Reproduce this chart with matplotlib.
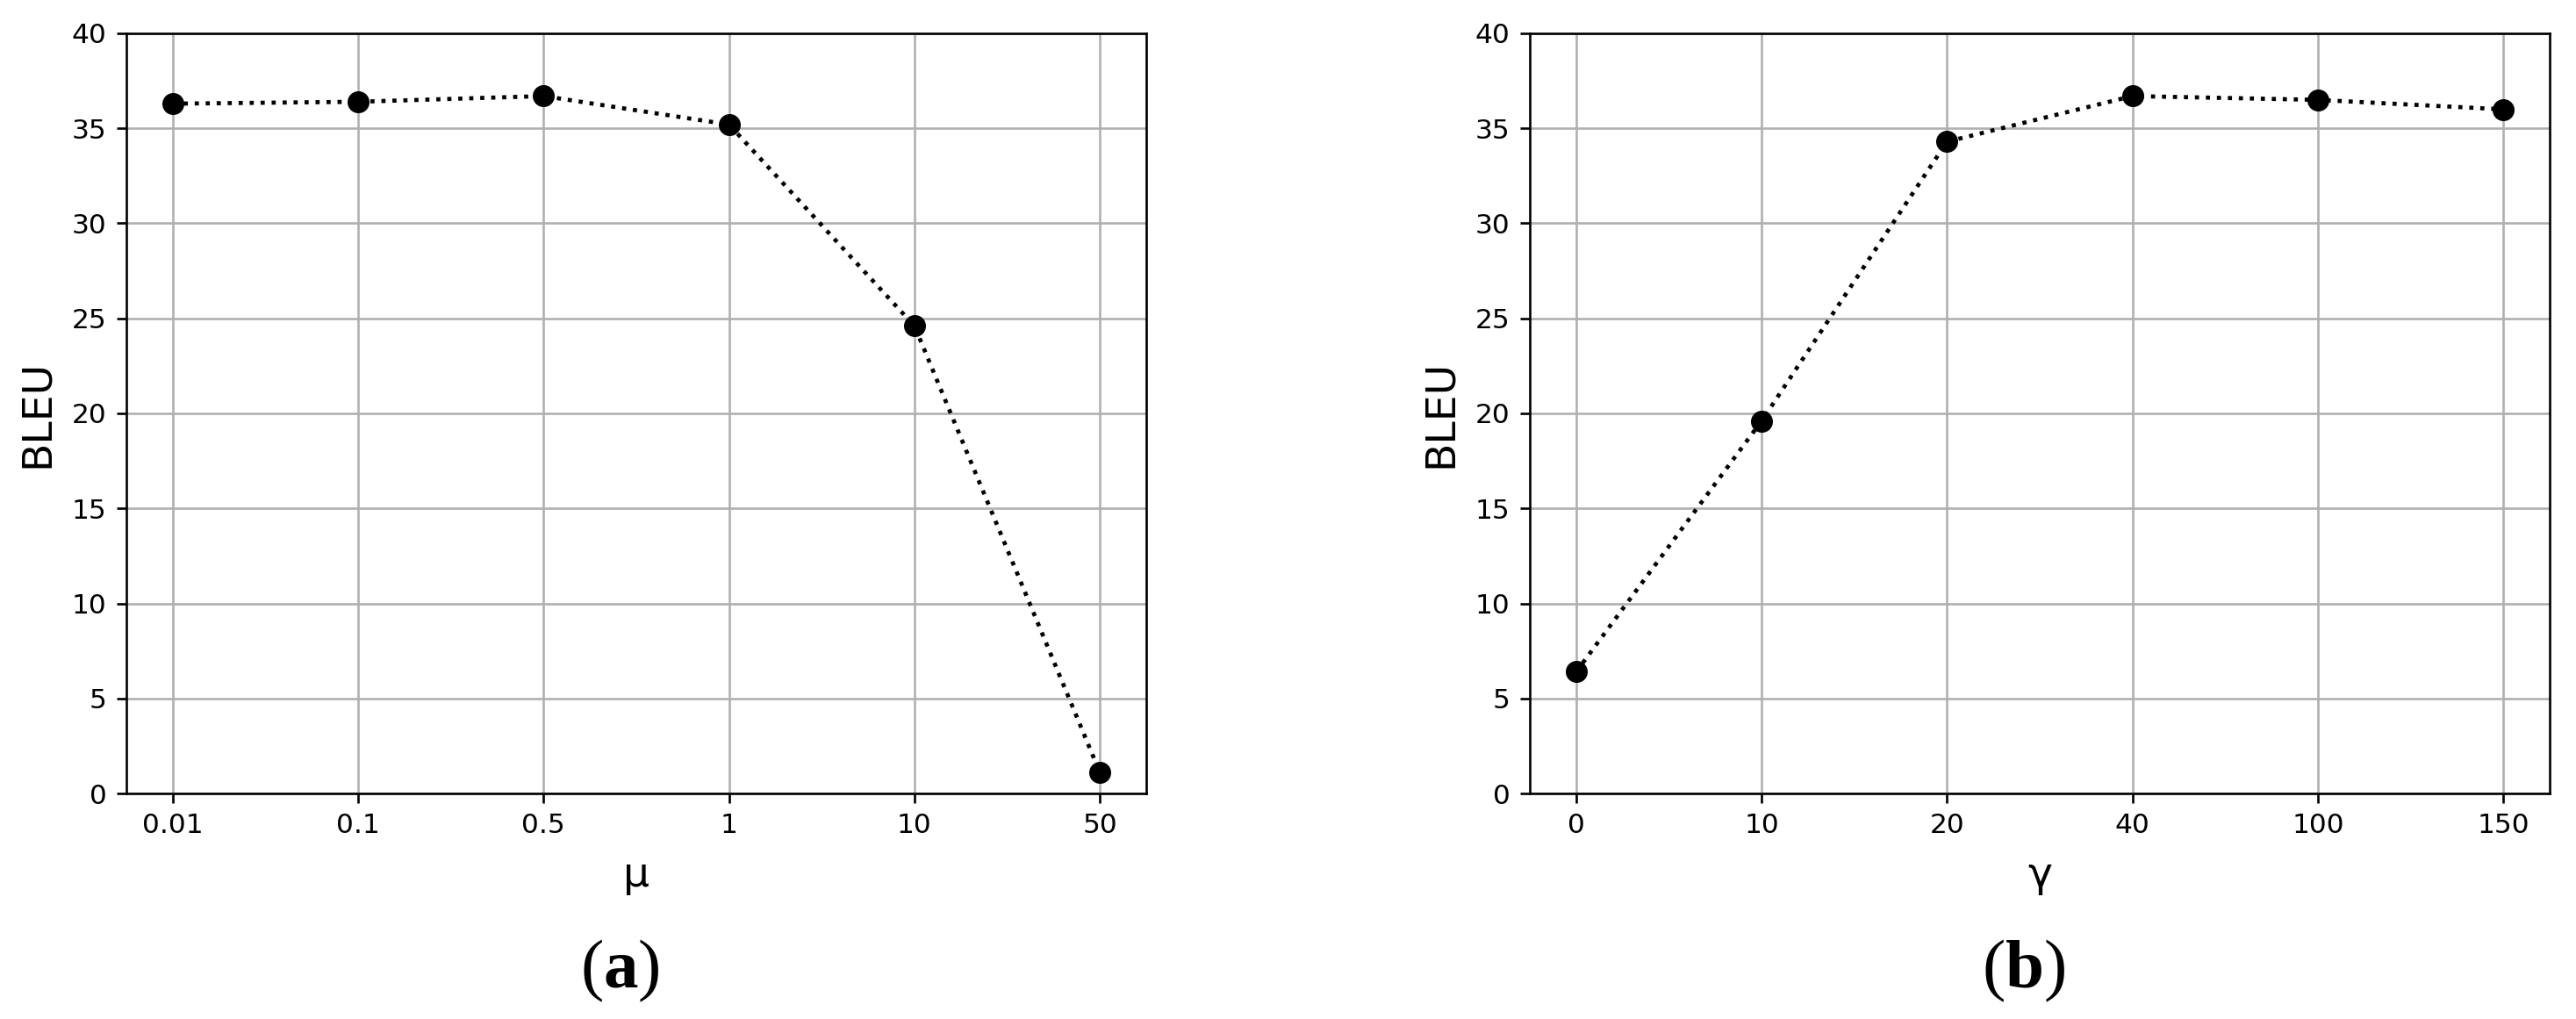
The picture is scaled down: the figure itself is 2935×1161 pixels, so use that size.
import matplotlib
matplotlib.use("Agg")
import matplotlib.pyplot as plt

plt.rcParams["mathtext.fontset"] = "custom"
plt.rcParams["mathtext.rm"] = "Liberation Serif"
plt.rcParams["mathtext.bf"] = "Liberation Serif:bold"

mu_labels = ["0.01", "0.1", "0.5", "1", "10", "50"]
mu_bleu = [36.3, 36.4, 36.7, 35.2, 24.6, 1.1]

gamma_labels = ["0", "10", "20", "40", "100", "150"]
gamma_bleu = [6.4, 19.6, 34.3, 36.7, 36.5, 36.0]

W, H = 2935, 1161
fig = plt.figure(figsize=(W / 100, H / 100), dpi=100)
ax1 = fig.add_axes([144 / W, 1 - 904 / H, 1162 / W, 866 / H])
ax2 = fig.add_axes([1743 / W, 1 - 904 / H, 1162 / W, 866 / H])


def draw(ax, labels, values, xlabel, caption):
    x = list(range(len(labels)))
    ax.plot(x, values, linestyle=":", color="black", linewidth=3.4,
            marker="o", markersize=17, zorder=3)
    ax.set_xticks(x)
    ax.set_xticklabels(labels)
    ax.set_xlim(-0.25, len(labels) - 0.75)
    ax.set_ylim(0, 40)
    ax.set_yticks(range(0, 41, 5))
    ax.grid(True, color="#b0b0b0", linewidth=1.9)
    ax.set_axisbelow(True)
    ax.tick_params(labelsize=22.5, length=8, width=1.9, pad=8)
    for s in ax.spines.values():
        s.set_linewidth(1.9)
    ax.set_ylabel("BLEU", fontsize=34, labelpad=12)
    ax.set_xlabel(xlabel, fontsize=34, labelpad=14)
    ax.text(0.484, -0.234, caption, transform=ax.transAxes, ha="center",
            va="center", fontsize=57, family="Liberation Serif")


draw(ax1, mu_labels, mu_bleu, "μ", r"($\mathbf{a}$)")
draw(ax2, gamma_labels, gamma_bleu, "γ", r"($\mathbf{b}$)")

fig.savefig("out.png", dpi=100)
